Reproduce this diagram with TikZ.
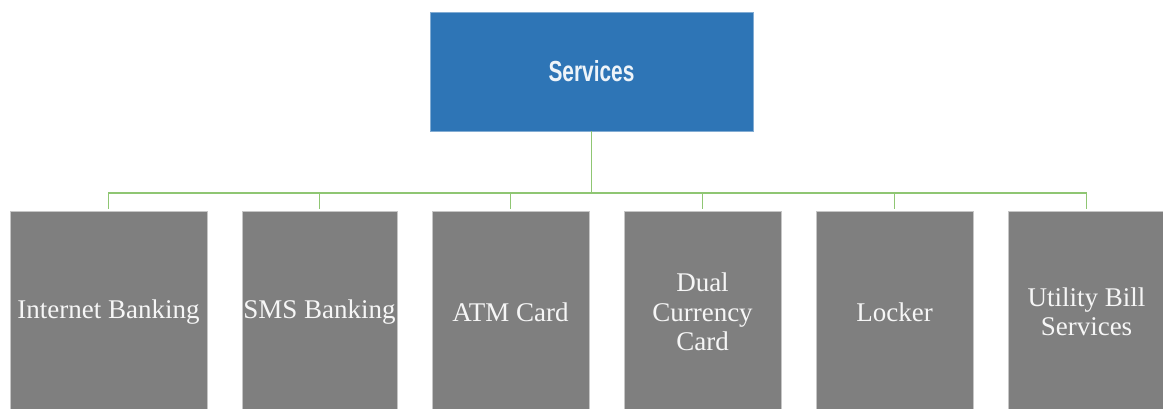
\documentclass[tikz,border=0pt]{standalone}
\usepackage{fontspec}
\setmainfont{Liberation Serif}
\newfontfamily\headfont[FakeStretch=0.72]{Liberation Sans}
\usepackage{tikz}

\definecolor{svcblue}{HTML}{2E75B6}
\definecolor{svcgray}{HTML}{7F7F7F}
\definecolor{svcgreen}{HTML}{8FC673}

\begin{document}
\begin{tikzpicture}[x=1pt, y=-1pt,
    head/.style={fill=svcblue, draw=svcblue!60!white, line width=0.8pt,
        minimum width=323pt, minimum height=119pt, inner sep=0pt,
        text=white!92!svcblue, font=\headfont\bfseries\fontsize{29}{32}\selectfont},
    leaf/.style={fill=svcgray, draw=gray!45, line width=0.8pt,
        minimum height=202pt, inner sep=0pt, align=center,
        text=white!93!gray, font=\fontsize{27}{29.5}\selectfont},
    link/.style={draw=svcgreen, line width=1.7pt}]
    \useasboundingbox (0,0) rectangle (1163,409);
    \node[head] (services) at (591.5,71.5) {Services};
    \coordinate (hub) at (591.5,193);
    \node[leaf, minimum width=197pt] (internet) at (108.5,312) {Internet Banking};
    \node[leaf, minimum width=155pt] (sms) at (319.5,312) {SMS Banking};
    \node[leaf, minimum width=157pt] (atm) at (510.5,312) {ATM Card};
    \node[leaf, minimum width=157pt] (dual) at (702.5,312) {Dual\\Currency\\Card};
    \node[leaf, minimum width=157pt] (locker) at (894.5,312) {Locker};
    \node[leaf, minimum width=157pt] (utility) at (1086.5,312) {Utility Bill\\Services};
    % tree connectors
    \draw[link] (services.south) -- (hub);
    \draw[link] (hub) -| ([yshift=2pt]internet.north);
    \draw[link] (hub) -| ([yshift=2pt]sms.north);
    \draw[link] (hub) -| ([yshift=2pt]atm.north);
    \draw[link] (hub) -| ([yshift=2pt]dual.north);
    \draw[link] (hub) -| ([yshift=2pt]locker.north);
    \draw[link] (hub) -| ([yshift=2pt]utility.north);
\end{tikzpicture}
\end{document}
